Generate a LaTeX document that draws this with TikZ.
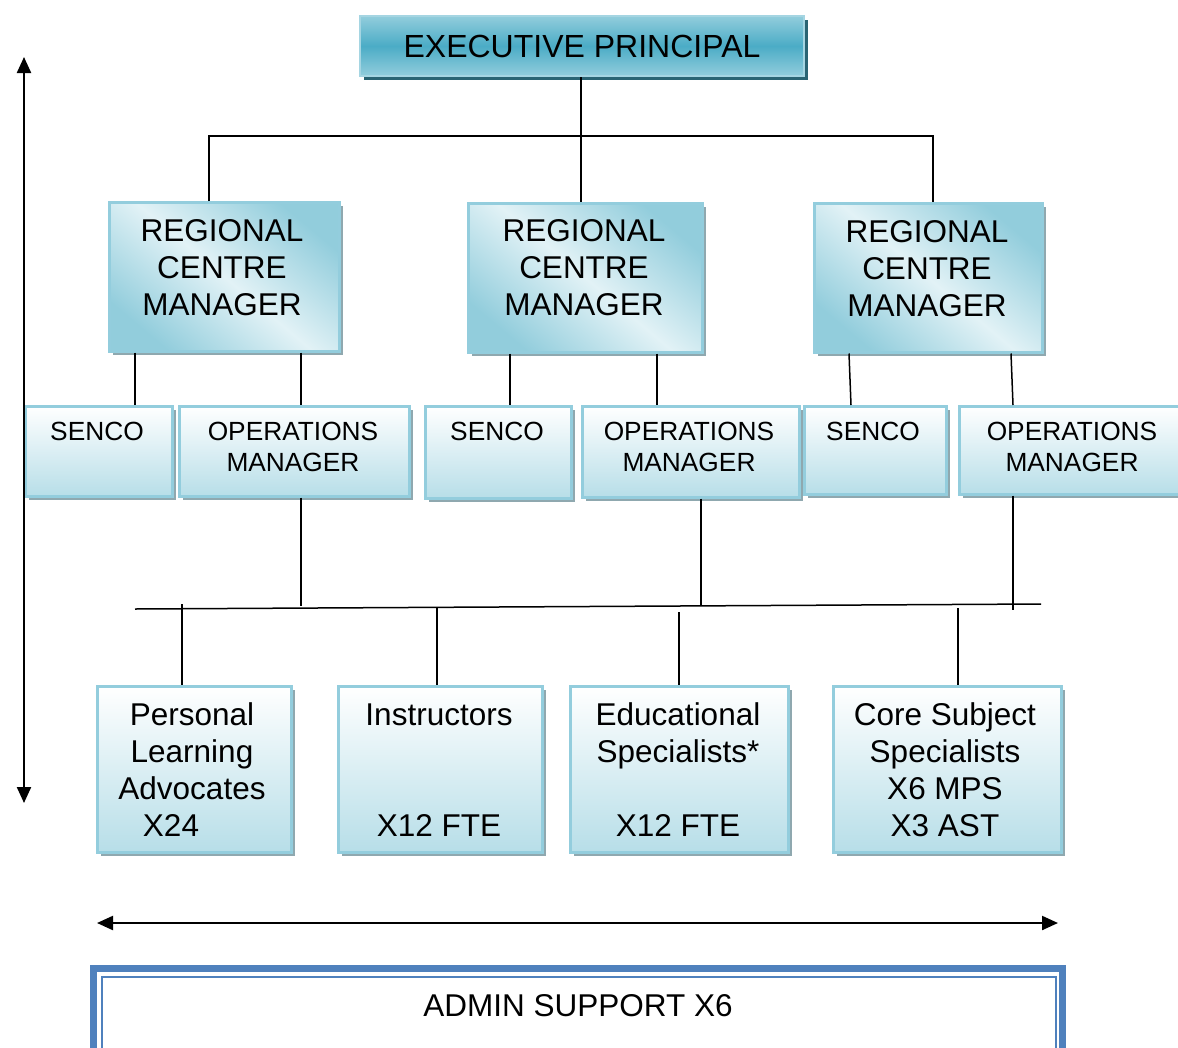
\documentclass[tikz,border=0pt]{standalone}
\usepackage{fontspec}
\setmainfont{Liberation Sans}
\usetikzlibrary{arrows.meta,shadows}
\definecolor{bord}{HTML}{93CDDD}
\definecolor{lightb}{HTML}{B7DEE8}
\definecolor{midb}{HTML}{4BACC6}
\definecolor{topb}{HTML}{92CDDC}
\definecolor{paleb}{HTML}{E2F2F6}
\definecolor{epbord}{HTML}{A5D5E2}
\definecolor{epshadow}{HTML}{2A6473}
\definecolor{gshadow}{HTML}{8FA8AF}
\definecolor{adminblue}{HTML}{4F81BD}
\newcommand\fbig{\fontsize{31.5}{37}\selectfont}
\newcommand\fmid{\fontsize{26.3}{31}\selectfont}
\begin{document}
\begin{tikzpicture}[x=1pt,y=-1pt,
  epbox/.style={draw=epbord, line width=2pt, top color=topb, bottom color=topb, middle color=midb,
    drop shadow={shadow xshift=4pt, shadow yshift=-4pt, fill=epshadow, opacity=1},
    minimum width=444pt, minimum height=60pt, inner sep=0pt, font=\fontsize{32}{38}\selectfont},
  rcmbox/.style={draw=bord, line width=2.5pt, top color=topb, bottom color=topb, middle color=paleb,
    shading angle=-40,
    drop shadow={shadow xshift=4pt, shadow yshift=-4pt, fill=gshadow, opacity=1},
    anchor=north west, inner sep=0pt},
  subbox/.style={draw=bord, line width=2.5pt, top color=white, bottom color=lightb,
    drop shadow={shadow xshift=3.5pt, shadow yshift=-3.5pt, fill=gshadow, opacity=1},
    anchor=north west, inner sep=0pt},
  txt/.style={inner sep=0pt, anchor=north, align=center},
  conn/.style={line width=1.5pt, black},
  dblarrow/.style={line width=2.2pt, {Triangle[length=16pt,width=14pt]}-{Triangle[length=16pt,width=14pt]}}
]
\useasboundingbox (0,0) rectangle (1178,1047);

% executive principal
\node[epbox] (ep) at (582,46) {EXECUTIVE PRINCIPAL};

% regional centre managers
\node[rcmbox, minimum width=230pt, minimum height=149pt] (rc1) at (108,201) {};
\node[rcmbox, minimum width=234pt, minimum height=149pt] (rc2) at (467,202) {};
\node[rcmbox, minimum width=228pt, minimum height=149pt] (rc3) at (813,202) {};
\node[txt, font=\fbig] (rc1t) at (222,219) {REGIONAL\\CENTRE\\MANAGER};
\node[txt, font=\fbig] (rc2t) at (584,219) {REGIONAL\\CENTRE\\MANAGER};
\node[txt, font=\fbig] (rc3t) at (927,220) {REGIONAL\\CENTRE\\MANAGER};

% SENCO and operations managers
\node[subbox, minimum width=147pt, minimum height=90pt] (s1) at (24,405) {};
\node[subbox, minimum width=230pt, minimum height=90pt] (o1) at (178,405) {};
\node[subbox, minimum width=146pt, minimum height=92pt] (s2) at (424,405) {};
\node[subbox, minimum width=217pt, minimum height=91pt] (o2) at (581,405) {};
\node[subbox, minimum width=142pt, minimum height=88pt] (s3) at (803,405) {};
\node[subbox, minimum width=228pt, minimum height=88pt] (o3) at (958,405) {};
\node[txt, font=\fmid] (s1t) at (97,422) {SENCO};
\node[txt, font=\fmid] (o1t) at (293,422) {OPERATIONS\\MANAGER};
\node[txt, font=\fmid] (s2t) at (497,422) {SENCO};
\node[txt, font=\fmid] (o2t) at (689,422) {OPERATIONS\\MANAGER};
\node[txt, font=\fmid] (s3t) at (873,422) {SENCO};
\node[txt, font=\fmid] (o3t) at (1072,422) {OPERATIONS\\MANAGER};

% bottom boxes
\node[subbox, minimum width=194pt, minimum height=166pt] (b1) at (96,685) {};
\node[subbox, minimum width=204pt, minimum height=166pt] (b2) at (337,685) {};
\node[subbox, minimum width=218pt, minimum height=166pt] (b3) at (569,685) {};
\node[subbox, minimum width=228pt, minimum height=166pt] (b4) at (832,685) {};
\node[txt, font=\fbig] (b1t) at (192,702) {Personal\\Learning\\Advocates\\X24\hspace*{42pt}};
\node[txt, font=\fbig] (b2t) at (439,704) {Instructors\\[74pt]X12 FTE};
\node[txt, font=\fbig] (b3t) at (678,702) {Educational\\Specialists*\\[37pt]X12 FTE};
\node[txt, font=\fbig] (b4t) at (945,702) {Core Subject\\Specialists\\X6 MPS\\X3 AST};

% connectors top
\coordinate (hub) at (ep.south |- 0,136);
\draw[conn] (ep.south -| 581,0) -- (rc2.north -| 581,0);
\draw[conn] (rc1.north -| 209,0) |- (hub) -| (rc3.north -| 933,0);

\draw[conn] (rc1.south -| 135,0) -- (s1.north -| 135,0);
\draw[conn] (rc1.south -| 301,0) -- (o1.north -| 301,0);
\draw[conn] (rc2.south -| 510,0) -- (s2.north -| 510,0);
\draw[conn] (rc2.south -| 657,0) -- (o2.north -| 657,0);
\draw[conn] (rc3.south -| 849,0) -- (s3.north -| 851,0);
\draw[conn] (rc3.south -| 1011,0) -- (o3.north -| 1013,0);

% bus
\coordinate (busL) at (135,609);
\coordinate (busR) at (1041,604);
\draw[conn] (busL) -- (busR);
\coordinate (bo1) at (301,606);
\coordinate (bo2) at (701,606);
\coordinate (bo3) at (1013,610);
\draw[conn] (o1.south -| 301,0) -- (bo1);
\draw[conn] (o2.south -| 701,0) -- (bo2);
\draw[conn] (o3.south -| 1013,0) -- (bo3);
\coordinate (d1) at (182,604);
\coordinate (d2) at (437,608);
\coordinate (d3) at (679,612);
\coordinate (d4) at (958,608);
\draw[conn] (d1) -- (b1.north -| d1);
\draw[conn] (d2) -- (b2.north -| d2);
\draw[conn] (d3) -- (b3.north -| d3);
\draw[conn] (d4) -- (b4.north -| d4);

% arrows
\coordinate (vtop) at (24,57);
\coordinate (vbot) at (24,803);
\draw[dblarrow] (vtop) -- (vbot);
\coordinate (hl) at (97,923);
\coordinate (hr) at (1058,923);
\draw[dblarrow] (hl) -- (hr);

% admin support
\fill[adminblue] (90,965) rectangle (1066,1060);
\fill[white] (97,972) rectangle (1059,1060);
\node[draw=adminblue, line width=1.5pt, fill=white, anchor=north west, minimum width=954pt, minimum height=84pt, inner sep=0pt] (admin) at (101,976) {};
\node[font=\fbig, inner sep=0pt] (admint) at (578,1006) {ADMIN SUPPORT X6};
\end{tikzpicture}
\end{document}
